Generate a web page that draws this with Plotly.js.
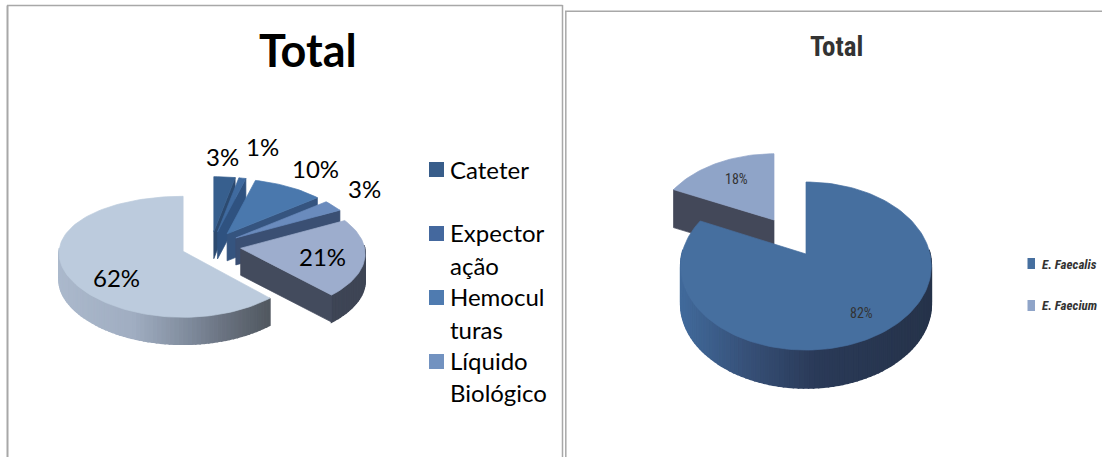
<!DOCTYPE html>
<html><head><meta charset="utf-8">
<script src="https://cdn.plot.ly/plotly-3.0.1.min.js"></script>
<style>html,body{margin:0;padding:0;background:#fff;overflow:hidden}#c{width:1102px;height:457px}</style>
</head><body><div id="c"></div>
<script>
// ---- data ----
const sampleCategories = ['Cateter','Expectoração','Hemoculturas','Líquido Biológico','Outro A','Outro B'];
const sampleValues = [3,1,10,3,21,62];
const speciesCategories = ['E. Faecalis','E. Faecium'];
const speciesValues = [82,18];
const sampleLegendLines = [['Cateter'],['Expector','ação'],['Hemocul','turas'],['Líquido','Biológico']];
const chartTitle = 'Total';

// ---- styles ----
const sampleTop = ['#375f8e','#3f6a9f','#4a78ad','#6a8bbd','#9dadcd','#bccbdd'];
const sampleFace = ['#2c4a70','#2f5280','#35547f','#3a4f73','#434b5d','#555555'];
const sampleRim = [[[0,'#2c4a70']],[[0,'#2f5280']],[[0,'#35547f']],[[0,'#3a4f73']],
  [[0,'#3e4555'],[1,'#3e4555']],
  [[57,'#abb9cc'],[133,'#a0adc1'],[190,'#7e8a9b'],[230,'#666e7b'],[270,'#50575f']]];
const speciesTop = ['#466f9f','#8fa4c8'];
const speciesFace = ['#3a5a85','#434859'];
const speciesRim = [[[681,'#416a9b'],[750,'#364f76'],[815,'#2a3a58'],[931,'#26334a']],[[0,'#434859']]];
const legendSwatch = ['#385d8a','#44689e','#4f7bb0','#7292c0'];

const traces = [];
function poly(pts,color,w){
  traces.push({type:'scatter',mode:'lines',x:pts.map(p=>p[0]),y:pts.map(p=>p[1]),fill:'toself',fillcolor:color,
    line:{color:color,width:w||0.7},hoverinfo:'skip',showlegend:false});
}
function hex(c){return [1,3,5].map(i=>parseInt(c.slice(i,i+2),16));}
function ramp(stops,x){
  if(stops.length===1||x<=stops[0][0])return stops[0][1];
  for(let i=1;i<stops.length;i++){ if(x<=stops[i][0]){
    const t=(x-stops[i-1][0])/(stops[i][0]-stops[i-1][0]),a=hex(stops[i-1][1]),b=hex(stops[i][1]);
    return 'rgb('+a.map((v,j)=>Math.round(v+(b[j]-v)*t)).join(',')+')';}}
  return stops[stops.length-1][1];
}
const rad=d=>d*Math.PI/180;
// g: one exploded perspective pie
function drawPie(values,top,face,rim,g,order){
  const total=values.reduce((s,v)=>s+v,0);
  let acc=0;
  const slices=values.map((v,i)=>{const s={i,t0:acc/total*360+g.start,t1:(acc+v)/total*360+g.start};acc+=v;return s;});
  order.forEach(i=>{
    const sl=slices[i],b=rad((sl.t0+sl.t1)/2),pull=g.pull[i];
    const sc=g.scale?g.scale[i]:1, sx=g.scaleX?g.scaleX[i]:sc, kx=g.kx?g.kx[i]:g.k;
    const tx=g.cx+pull*Math.sin(b)+(g.dx?g.dx[i]:0),ty=g.cy-pull*g.yr*Math.cos(b)+(g.dy?g.dy[i]:0);
    const P=(deg)=>{const t=rad(deg),c=Math.cos(t);
      return [tx+sx*g.rx*Math.sin(t)/(1+kx*c), ty-sc*g.a*c/(1+g.k*c)];};
    const D=p=>[p[0],p[1]+g.depth];
    // outer rim, only the part that faces the viewer
    const r0=Math.max(sl.t0,90-g.rimOver),r1=Math.min(sl.t1,270+g.rimOver);
    if(r1>r0){
      const n=Math.max(1,Math.ceil((r1-r0)/2));
      for(let j=0;j<n;j++){
        const a=P(r0+(r1-r0)*j/n),c=P(r0+(r1-r0)*(j+1)/n);
        poly([a,c,D(c),D(a),a],ramp(rim[i],(a[0]+c[0])/2),1.6);
      }
    }
    // radial cut faces that point at the viewer
    const tip=[tx,ty];
    if(Math.sin(rad(sl.t0))<-1e-6){const e=P(sl.t0);poly([tip,e,D(e),D(tip),tip],face[i]);}
    if(Math.sin(rad(sl.t1))>1e-6){const e=P(sl.t1);poly([tip,e,D(e),D(tip),tip],face[i]);}
    // top face
    const pts=[tip];const n=Math.ceil((sl.t1-sl.t0)/2);
    for(let j=0;j<=n;j++)pts.push(P(sl.t0+(sl.t1-sl.t0)*j/n));
    pts.push(tip);poly(pts,top[i]);
  });
}
drawPie(sampleValues,sampleTop,sampleFace,sampleRim,
  {cx:211,cy:246,rx:124,a:60,k:0.0909,depth:27,yr:0.48,start:0,rimOver:3,pull:[30,30,30,30,30,30],
   kx:[0.0909,0.0909,0.0909,0.0909,0.0909,0.03]},
  [0,1,2,3,4,5]);
drawPie(speciesValues,speciesTop,speciesFace,speciesRim,
  {cx:806,cy:254,rx:124,a:82.3,k:0.143,depth:38,yr:0.6,start:0,rimOver:3,pull:[0,0],
   dx:[0,-32],dy:[0,-34],scale:[1,0.92],scaleX:[1,0.95]},
  [1,0]);

const calibri='Lato, Carlito, sans-serif';
const narrow='"Liberation Sans Narrow", "Roboto Condensed", Lato, sans-serif';
const ann=[];
function text(str,x,y,size,color,family,anchor){
  ann.push({text:str,x,y,xref:'x',yref:'y',showarrow:false,xanchor:anchor||'center',yanchor:'middle',
    font:{family:family,size:size,color:color}});
}
// chart titles
text('<b>'+chartTitle+'</b>',308,50,45,'#000',calibri);
text('<b>'+chartTitle+'</b>',836,47,27,'#333',narrow);
// value labels, left pie
const sampleLabelX=[222,262,315,364,322,116], sampleLabelY=[156,146,168,188,256,277];
sampleValues.forEach((v,i)=>text(v+'%',sampleLabelX[i],sampleLabelY[i],24,'#000',calibri));
// value labels, right pie
const speciesLabelX=[861,736], speciesLabelY=[313,179];
speciesValues.forEach((v,i)=>text(v+'%',speciesLabelX[i],speciesLabelY[i],14,'#333',narrow));
// legends
const shapes=[];
const swatchY=[162,226,290,354], lineY=[[169],[232,265],[296,329],[360,392]];
sampleLegendLines.forEach((ls,i)=>{
  shapes.push({type:'rect',xref:'x',yref:'y',x0:429,x1:444,y0:swatchY[i],y1:swatchY[i]+15,fillcolor:legendSwatch[i],line:{width:0}});
  ls.forEach((l,j)=>text(l,448,lineY[i][j],24,'#000',calibri,'left'));
});
const spSwY=[258,300], spTxtY=[264,305];
speciesCategories.forEach((c,i)=>{
  shapes.push({type:'rect',xref:'x',yref:'y',x0:1027.5,x1:1035,y0:spSwY[i],y1:spSwY[i]+11,fillcolor:speciesTop[i],line:{width:0}});
  text('<b><i>'+c+'</i></b>',1040,spTxtY[i],13,'#333',narrow,'left');
});
// panel frames
const frame='#a8a8a8';
function ln(x0,y0,x1,y1,w){shapes.push({type:'line',xref:'x',yref:'y',x0,y0,x1,y1,line:{color:frame,width:w}});}
ln(7.5,5.5,7.5,457,2); ln(7,5.5,562.5,5.5,1.5); ln(562.5,5,562.5,457,1.5);
ln(565.8,11,565.8,457,1.5); ln(565,11.3,1102,11.3,1.5);

Plotly.newPlot('c',traces,{
  width:1102,height:457,margin:{l:0,r:0,t:0,b:0},paper_bgcolor:'#fff',plot_bgcolor:'#fff',showlegend:false,
  xaxis:{range:[0,1102],visible:false,fixedrange:true},
  yaxis:{range:[457,0],visible:false,fixedrange:true},
  annotations:ann,shapes:shapes
},{displayModeBar:false,staticPlot:true});
</script></body></html>
